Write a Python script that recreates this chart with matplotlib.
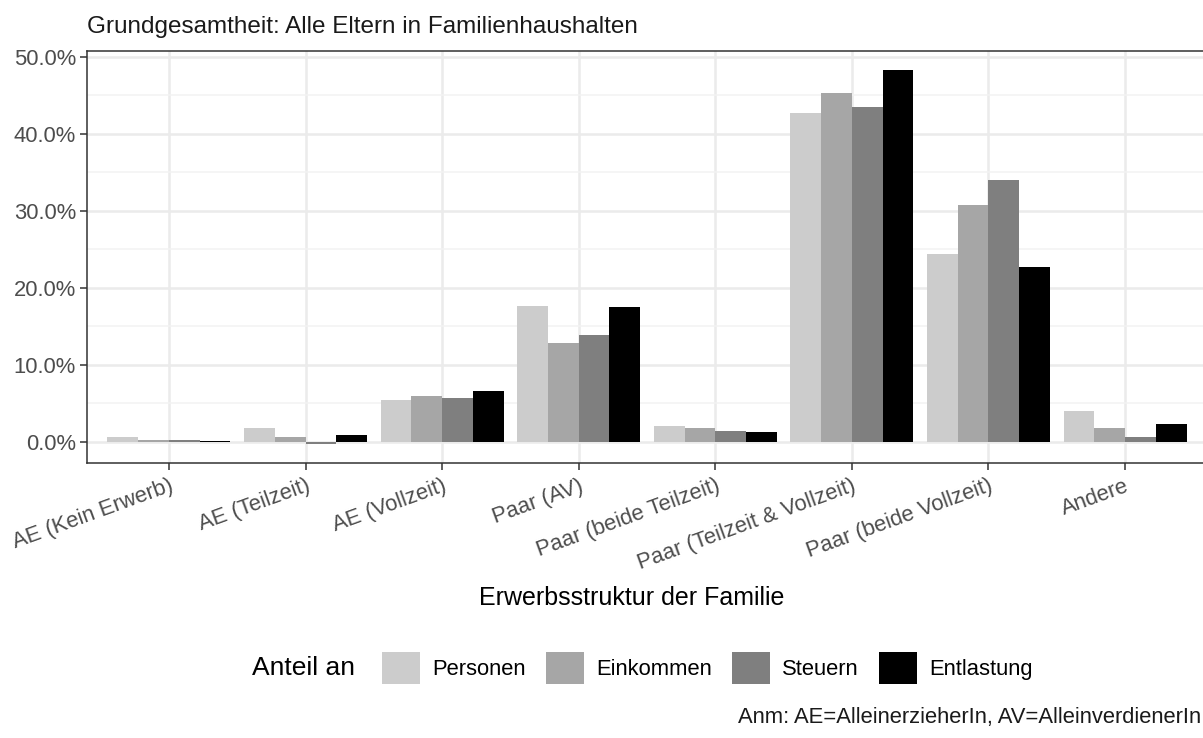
import numpy as np
import matplotlib
matplotlib.use("Agg")
import matplotlib.pyplot as plt
from matplotlib.ticker import FuncFormatter, MultipleLocator
from matplotlib.patches import Patch

plt.rcParams['font.family'] = ['Liberation Sans', 'DejaVu Sans']

# Erwerbsstruktur der Familie
categories = ['AE (Kein Erwerb)', 'AE (Teilzeit)', 'AE (Vollzeit)', 'Paar (AV)',
              'Paar (beide Teilzeit)', 'Paar (Teilzeit & Vollzeit)',
              'Paar (beide Vollzeit)', 'Andere']

# shares in percent
personen   = [0.7, 1.85, 5.45, 17.7, 2.05, 42.7, 24.4, 4.0]
einkommen  = [0.25, 0.65, 5.97, 12.9, 1.8, 45.3, 30.7, 1.8]
steuern    = [0.2, -0.3, 5.67, 13.86, 1.36, 43.4, 34.0, 0.64]
entlastung = [0.1, 0.95, 6.65, 17.45, 1.23, 48.2, 22.7, 2.3]

series_names = ['Personen', 'Einkommen', 'Steuern', 'Entlastung']
series_colors = ['#CCCCCC', '#A6A6A6', '#7F7F7F', '#000000']

W, H = 1203, 738
fig = plt.figure(figsize=(W / 100, H / 100), dpi=100)

# panel in pixel coords (right edge runs past the picture, as in the original)
left, right, top, bottom = 87, 1207, 51, 463
ax = fig.add_axes([left / W, 1 - bottom / H, (right - left) / W, (bottom - top) / H])

x = np.arange(len(categories))
bw = 0.9 / 4
for i, (vals, name, col) in enumerate(zip([personen, einkommen, steuern, entlastung],
                                           series_names, series_colors)):
    ax.bar(x - 0.45 + bw * (i + 0.5), vals, width=bw, color=col, label=name, zorder=3)

ax.set_xlim(-0.6, len(categories) - 1 + 0.6)
ax.set_ylim(-2.73, 50.73)
ax.set_xticks(x)
ax.set_xticklabels(categories, rotation=20, ha='right', va='top',
                   rotation_mode='anchor', fontsize=15.8, color='#4D4D4D')
ax.yaxis.set_major_locator(MultipleLocator(10))
ax.yaxis.set_minor_locator(MultipleLocator(5))
ax.yaxis.set_major_formatter(FuncFormatter(lambda v, p: '%.1f%%' % v))
ax.tick_params(axis='y', which='major', labelsize=15.8, labelcolor='#4D4D4D',
               length=5, width=1.1, color='#333333', pad=3)
ax.tick_params(axis='y', which='minor', length=0)
ax.tick_params(axis='x', length=5, width=1.1, color='#333333', pad=4)

ax.grid(True, which='major', color='#EBEBEB', linewidth=1.8, zorder=0)
ax.grid(True, which='minor', axis='y', color='#F2F2F2', linewidth=1.1, zorder=0)
ax.set_axisbelow(True)
for sp in ax.spines.values():
    sp.set_color('#333333')
    sp.set_linewidth(1.1)

fig.text(87 / W, 1 - 27 / H, 'Grundgesamtheit: Alle Eltern in Familienhaushalten',
         fontsize=17.5, ha='left', va='center', color='#1A1A1A')
fig.text(632 / W, 1 - 598 / H, 'Erwerbsstruktur der Familie',
         fontsize=18, ha='center', va='center', color='black')

# legend at the bottom, title on the left
fig.text(252 / W, 1 - 668 / H, 'Anteil an', fontsize=19, ha='left', va='center')
handles = [Patch(facecolor=c, edgecolor='none') for c in series_colors]
fig.legend(handles, series_names, loc='center left',
           bbox_to_anchor=(382 / W, 1 - 668 / H), ncol=4, frameon=False,
           fontsize=15.8, handlelength=1.75, handleheight=1.85,
           handletextpad=0.55, columnspacing=0.9, borderpad=0, borderaxespad=0)

# caption kept fully inside the picture
fig.text(1201 / W, 1 - 718 / H, 'Anm: AE=AlleinerzieherIn, AV=AlleinverdienerIn',
         fontsize=15.8, ha='right', va='center', color='#1A1A1A')

fig.savefig('out.png', dpi=100)
